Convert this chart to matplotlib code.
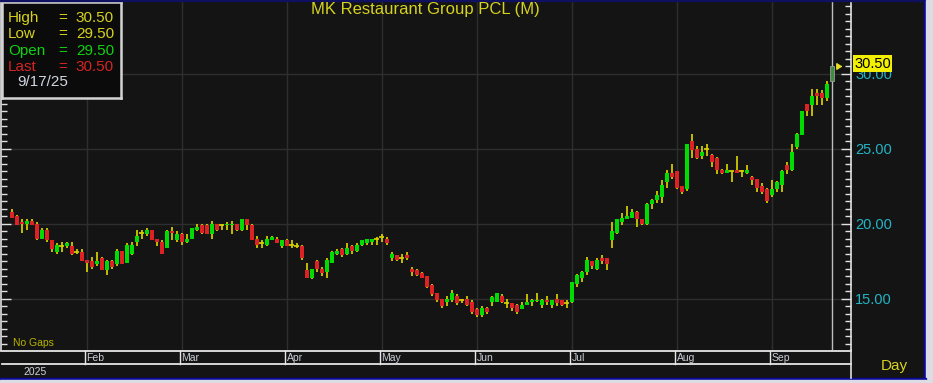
import matplotlib
matplotlib.use("Agg")
import matplotlib.pyplot as plt
from matplotlib.patches import Rectangle
from matplotlib.ticker import MultipleLocator, FixedLocator

# ---------------- data ----------------
title = "MK Restaurant Group PCL (M)"
months = ["Feb", "Mar", "Apr", "May", "Jun", "Jul", "Aug", "Sep"]
month_start_idx = [15, 34, 55, 74, 93, 112, 133, 152]
year_label = "2025"
price_ticks = [15, 20, 25, 30]
last_price = 30.50
legend_rows = [("High", "30.50"), ("Low", "29.50"), ("Open", "29.50"), ("Last", "30.50")]
legend_date = "9/17/25"

opens = [20.8, 20.5, 20.1, 20.0, 20.2, 20.0, 19.0, 19.6, 18.9, 18.1,
         18.5, 18.5, 18.5, 18.1, 18.1, 17.6, 17.5, 17.3, 17.7, 16.9,
         17.5, 17.3, 18.2, 17.4, 18.0, 18.8, 19.4, 19.3, 19.6, 19.0,
         18.8, 18.4, 19.5, 18.9, 19.3, 18.8, 19.0, 19.6, 19.9, 19.9,
         19.3, 20.0, 19.9, 19.9, 19.9, 20.0, 19.6, 20.3, 19.9, 19.0,
         18.7, 18.6, 18.9, 19.0, 18.5, 18.9, 18.6, 18.5, 18.5, 16.9,
         16.4, 17.5, 17.0, 16.8, 17.4, 18.0, 18.3, 18.0, 18.5, 18.2,
         18.6, 18.7, 18.8, 19.0, 19.1, 19.0, 17.7, 17.9, 17.7, 17.9,
         17.0, 16.9, 16.7, 16.5, 15.9, 15.4, 15.0, 14.8, 14.9, 15.2,
         14.9, 15.0, 14.8, 14.3, 13.9, 14.4, 14.8, 14.8, 15.2, 14.7,
         14.7, 14.6, 14.3, 14.6, 14.8, 14.85, 14.6, 14.9, 14.6, 15.0,
         14.9, 14.7, 14.8, 16.0, 16.4, 16.8, 17.5, 17.0, 17.7, 17.7,
         18.9, 19.4, 20.1, 20.35, 20.4, 20.8, 20.3, 20.0, 21.3, 21.6,
         21.8, 22.8, 23.4, 23.5, 22.5, 22.3, 25.5, 25.0, 24.5, 25.0,
         24.6, 24.4, 23.6, 23.4, 23.55, 23.6, 23.5, 23.4, 23.1, 23.0,
         22.5, 22.3, 21.9, 22.3, 22.6, 23.9, 23.6, 25.1, 25.9, 28.0,
         27.9, 28.75, 28.7, 28.4, 29.5]
highs = [21.0, 20.6, 20.3, 20.3, 20.3, 20.1, 19.7, 19.7, 18.9, 18.7,
         18.8, 18.8, 18.8, 18.3, 18.3, 17.6, 17.8, 18.1, 17.8, 17.6,
         17.6, 18.3, 18.2, 18.7, 18.8, 19.6, 19.6, 19.7, 19.6, 19.0,
         18.9, 19.6, 19.8, 19.5, 19.4, 19.3, 19.7, 20.0, 20.0, 20.0,
         20.2, 20.0, 20.0, 20.1, 20.2, 20.0, 20.3, 20.3, 20.0, 19.2,
         18.9, 19.2, 19.2, 19.1, 18.9, 19.0, 18.9, 18.7, 18.6, 17.4,
         17.0, 17.6, 17.1, 17.7, 18.2, 18.3, 18.4, 18.7, 18.6, 18.7,
         18.9, 19.0, 19.0, 19.1, 19.3, 19.1, 18.1, 17.95, 18.0, 18.1,
         17.1, 17.0, 16.8, 16.55, 16.0, 15.4, 15.0, 15.2, 15.6, 15.3,
         15.0, 15.2, 14.9, 14.4, 14.5, 14.45, 15.2, 15.4, 15.3, 15.0,
         14.7, 14.65, 14.8, 15.3, 15.0, 15.4, 15.0, 15.2, 14.95, 15.3,
         14.95, 14.9, 16.15, 16.65, 16.85, 17.8, 17.55, 17.7, 17.9, 17.7,
         20.1, 20.35, 20.7, 21.2, 21.0, 20.85, 20.35, 21.4, 21.65, 22.2,
         22.9, 23.6, 24.0, 23.55, 22.55, 25.3, 26.0, 25.2, 25.2, 25.3,
         24.65, 24.45, 23.65, 24.0, 23.55, 24.5, 23.6, 23.9, 23.2, 23.0,
         22.7, 22.4, 22.9, 22.85, 23.6, 24.1, 25.3, 26.05, 27.5, 28.0,
         29.0, 29.0, 28.9, 29.5, 30.5]
lows = [20.4, 19.9, 19.4, 19.6, 19.9, 18.9, 19.0, 18.8, 18.1, 18.0,
        18.1, 18.4, 17.9, 18.0, 17.5, 16.8, 17.0, 17.2, 16.9, 16.6,
        17.0, 17.2, 17.3, 17.4, 17.9, 18.5, 19.0, 19.2, 18.9, 18.5,
        18.0, 18.4, 18.9, 18.8, 18.6, 18.7, 19.0, 19.5, 19.3, 19.3,
        19.0, 19.5, 19.6, 19.6, 19.3, 19.5, 19.5, 19.6, 18.9, 18.4,
        18.4, 18.5, 18.9, 18.7, 18.4, 18.5, 18.4, 18.4, 17.6, 16.4,
        16.3, 16.8, 16.5, 16.4, 17.4, 17.9, 17.8, 17.9, 18.0, 18.1,
        18.5, 18.6, 18.6, 18.6, 18.8, 18.6, 17.5, 17.5, 17.4, 17.6,
        16.5, 16.5, 16.4, 15.7, 15.2, 14.8, 14.4, 14.5, 14.8, 14.6,
        14.7, 14.5, 14.0, 13.8, 13.8, 14.0, 14.5, 14.8, 14.7, 14.4,
        14.2, 14.0, 14.3, 14.6, 14.5, 14.8, 14.4, 14.6, 14.4, 14.5,
        14.5, 14.4, 14.75, 15.8, 16.1, 16.6, 17.0, 16.9, 17.3, 16.9,
        18.4, 19.3, 19.9, 20.35, 20.4, 19.8, 19.9, 19.95, 21.0, 21.4,
        21.4, 22.4, 23.0, 22.3, 22.0, 22.2, 24.4, 24.3, 24.3, 24.5,
        23.8, 23.3, 23.3, 23.4, 22.8, 23.4, 23.1, 23.3, 22.6, 22.15,
        22.0, 21.4, 21.8, 22.1, 22.1, 23.3, 23.5, 25.0, 25.9, 27.2,
        27.2, 27.9, 27.9, 28.2, 29.5]
closes = [20.4, 19.9, 20.0, 20.2, 19.9, 19.0, 19.6, 18.9, 18.3, 18.6,
          18.5, 18.7, 18.0, 18.1, 17.5, 17.4, 17.1, 17.5, 16.9, 17.5,
          17.1, 18.2, 17.3, 18.6, 18.6, 19.2, 19.4, 19.6, 18.9, 18.8,
          18.0, 19.5, 19.4, 19.3, 18.8, 19.0, 19.7, 19.8, 19.4, 19.3,
          20.0, 19.6, 19.9, 20.0, 20.0, 19.6, 20.3, 19.9, 18.9, 18.6,
          18.7, 19.0, 19.1, 18.7, 18.9, 18.5, 18.6, 18.5, 17.7, 16.4,
          17.0, 17.0, 16.7, 17.6, 18.1, 18.2, 17.9, 18.4, 18.2, 18.6,
          18.9, 19.0, 19.0, 19.0, 19.1, 18.7, 18.0, 17.6, 17.7, 17.7,
          16.8, 16.6, 16.4, 15.8, 15.3, 14.9, 14.5, 15.0, 15.4, 14.7,
          14.9, 14.6, 14.1, 13.9, 14.4, 14.1, 15.1, 15.4, 14.8, 14.7,
          14.4, 14.1, 14.6, 14.8, 14.9, 14.95, 14.9, 14.8, 14.9, 14.7,
          14.6, 14.7, 16.1, 16.6, 16.8, 17.6, 17.2, 17.6, 17.5, 17.3,
          19.5, 20.3, 20.4, 20.5, 20.8, 20.3, 20.0, 21.3, 21.6, 21.9,
          22.6, 23.4, 23.1, 22.4, 22.1, 25.3, 24.9, 24.4, 24.8, 25.0,
          24.1, 23.6, 23.4, 23.6, 23.55, 23.4, 23.5, 23.6, 22.9, 22.4,
          22.1, 21.5, 22.3, 22.8, 23.5, 23.6, 24.8, 26.0, 27.5, 27.5,
          28.5, 28.5, 28.4, 29.3, 30.5]

# ---------------- style ----------------
BG = "#141414"
GRID = "#2e2e2e"
YEL = "#d6d21e"
WICK = "#d8d000"
GREEN = "#00dc00"
RED = "#dc2222"
CYAN = "#22b4c6"
FONT = ["Liberation Sans", "DejaVu Sans"]
plt.rcParams["font.family"] = FONT

W, H = 933, 383
fig = plt.figure(figsize=(W / 100, H / 100), dpi=100, facecolor=BG)


def fx(px):
    return px / W


def fy(py):
    return 1 - py / H


# frame / outside
fig.patches.append(Rectangle((fx(924), 0), fx(2), 1, transform=fig.transFigure, color="#0a0a9a", zorder=0))
fig.patches.append(Rectangle((fx(926), 0), 1, 1, transform=fig.transFigure, color="#dcdce4", zorder=0))
fig.patches.append(Rectangle((0, fy(380)), fx(926), fy(378) - fy(380), transform=fig.transFigure, color="#0a0a9a", zorder=0))
fig.patches.append(Rectangle((0, 0), 1, fy(380), transform=fig.transFigure, color="#dcdce4", zorder=0))
fig.patches.append(Rectangle((0, fy(1)), fx(924), fy(0) - fy(1), transform=fig.transFigure, color="#101060", zorder=0))

# ---------------- main axes ----------------
ax = fig.add_axes([fx(1), fy(350), (851 - 1) / W, 350 / H])
ax.set_facecolor(BG)
xmin, xmax = -2.2, 167.8
ax.set_xlim(xmin, xmax)
ax.set_ylim(11.6, 34.933)

for p in price_ticks:
    ax.axhline(p, color=GRID, lw=1.0, zorder=0)
for m in month_start_idx:
    ax.axvline(m, color=GRID, lw=1.0, zorder=0)

n = len(closes)
xs = list(range(n))
bw = 0.8
ax.vlines(xs[:-1], lows[:-1], highs[:-1], color=WICK, lw=1.25, zorder=2)
for i in xs[:-1]:
    o, c = opens[i], closes[i]
    if abs(c - o) < 0.06:
        ax.hlines(o, i - 0.5, i + 0.5, color=WICK, lw=1.25, zorder=3)
    else:
        col = GREEN if c > o else RED
        ax.bar(i, abs(c - o), bottom=min(o, c), width=bw, color=col, lw=0, zorder=3)

# cursor on last candle
li = n - 1
ax.axvline(li, ymin=0, ymax=1, color="#bdbdbd", lw=1.0, zorder=4)
ax.bar(li, closes[li] - opens[li], bottom=opens[li], width=bw, color="#3f8f3f",
       edgecolor="#9a9a9a", lw=0.6, zorder=5)
ax.annotate("", xy=(li + 2.6, last_price), xytext=(li + 1.2, last_price),
            arrowprops=dict(arrowstyle="-|>,head_length=0.3,head_width=0.2", color="#e8e020", lw=1.0), zorder=6)

# axes / ticks
for s in ["top", "bottom"]:
    ax.spines[s].set_visible(False)
for s in ["left", "right"]:
    ax.spines[s].set_color("#e0e0e0")
    ax.spines[s].set_linewidth(1.2)
ax.set_xticks([])
ax.yaxis.set_major_locator(FixedLocator(price_ticks))
ax.yaxis.set_minor_locator(MultipleLocator(0.5))
ax.yaxis.set_major_formatter(matplotlib.ticker.FuncFormatter(lambda v, p: f"{v:.2f}"))
ax.tick_params(axis="y", which="both", left=True, right=True, labelleft=False,
               labelright=True, direction="in", color="#e0e0e0", width=1.0)
ax.tick_params(axis="y", which="major", length=7, pad=3, labelsize=10.5, labelcolor=CYAN)
ax.tick_params(axis="y", which="minor", length=4)

# right spine continuation into bottom strip
fig.add_artist(plt.Line2D([fx(851), fx(851)], [fy(378), fy(350)], color="#e0e0e0", lw=1.2))

# ---------------- bottom date strip ----------------
axb = fig.add_axes([fx(1), fy(378), 850 / W, 28 / H])
axb.set_facecolor(BG)
axb.set_xlim(xmin, xmax)
axb.set_ylim(28, 0)
axb.axis("off")
axb.plot([xmin, xmax], [0.5, 0.5], color="#e6e6e6", lw=1.3, clip_on=False)
axb.plot([xmin + 0.2, xmax], [14, 14], color="#e6e6e6", lw=1.3, clip_on=False)
for m, lab in zip(month_start_idx, months):
    axb.plot([m - 0.3, m - 0.3], [0.5, 14], color="#e6e6e6", lw=1.0)
    axb.text(m - 0.1, 8, lab, color="#c8ccd4", fontsize=7.5, ha="left", va="center")
axb.text(2.2, 22, year_label, color="#d0d4dc", fontsize=7.5, ha="left", va="center")

# ---------------- texts ----------------
fig.text(fx(425), fy(9.5), title, color=YEL, fontsize=12, ha="center", va="center")
fig.text(fx(13), fy(343), "No Gaps", color="#b8b400", fontsize=7.5, ha="left", va="center")
fig.text(fx(894), fy(366), "Day", color=YEL, fontsize=11, ha="center", va="center")
fig.text(fx(854), fy(63.5), f"{last_price:.2f}", color="#000000", fontsize=10.5, ha="left",
         va="center", bbox=dict(boxstyle="square,pad=0.08", fc="#f2f000", ec="none"), zorder=10)

# ---------------- legend box ----------------
axl = fig.add_axes([fx(2), fy(98), 119 / W, 96 / H])
axl.set_xlim(0, 119)
axl.set_ylim(96, 0)
axl.set_facecolor("#0b0b0b")
axl.set_xticks([])
axl.set_yticks([])
for s in axl.spines.values():
    s.set_color("#d4d4d4")
    s.set_linewidth(1.8)
row_cols = [YEL, YEL, "#12d012", "#d42424"]
for k, ((lab, val), col) in enumerate(zip(legend_rows, row_cols)):
    yy = 16 + k * 16.3
    axl.text(6, yy, lab, color=col, fontsize=11, ha="left", va="center")
    axl.text(61, yy, "=", color=col, fontsize=11, ha="center", va="center")
    axl.text(112, yy, val, color=col, fontsize=11, ha="right", va="center")
axl.text(15, 80, legend_date, color="#d0d6e2", fontsize=11, ha="left", va="center")

fig.savefig("out.png", dpi=100, facecolor=BG)
